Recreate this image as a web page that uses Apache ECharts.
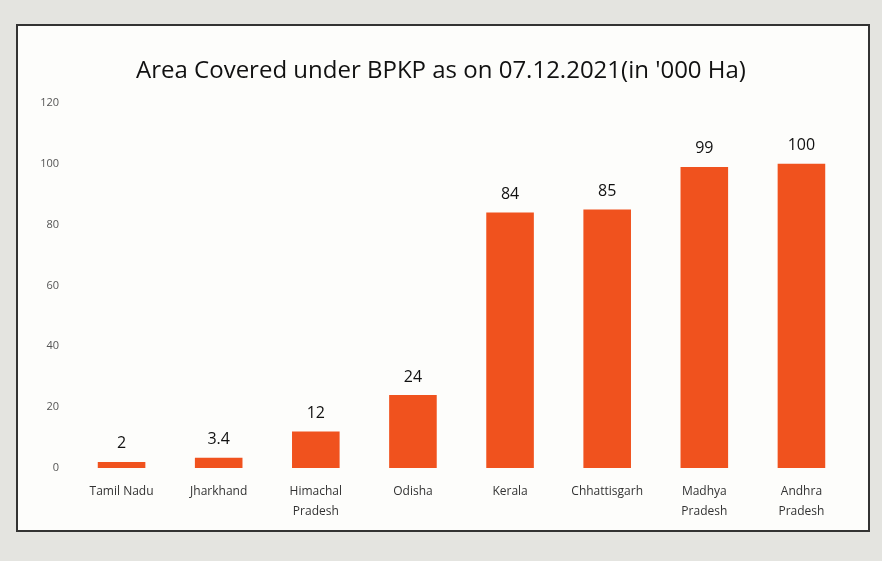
<!DOCTYPE html>
<html>
<head>
<meta charset="utf-8">
<script src="https://cdn.jsdelivr.net/npm/echarts@6/dist/echarts.min.js"></script>
<style>
html,body{margin:0;padding:0;background:#e4e4e0;}
#frame{position:absolute;left:16px;top:24px;width:854px;height:508px;background:#fdfdfb;border:2px solid #333;box-sizing:border-box;}
#chart{position:absolute;left:0;top:0;width:882px;height:561px;}
</style>
</head>
<body>
<div id="frame"></div>
<div id="chart"></div>
<script>
const categories = ["Tamil Nadu", "Jharkhand", "Himachal\nPradesh", "Odisha", "Kerala", "Chhattisgarh", "Madhya\nPradesh", "Andhra\nPradesh"];
const values = [2, 3.4, 12, 24, 84, 85, 99, 100];
const yTicks = [0, 20, 40, 60, 80, 100, 120];

const chart = echarts.init(document.getElementById('chart'), null, {renderer: 'canvas'});
chart.setOption({
  backgroundColor: 'transparent',
  animation: false,
  title: {
    text: "Area Covered under BPKP as on 07.12.2021(in '000 Ha)",
    left: 'center',
    top: 54,
    textStyle: {fontFamily: 'Open Sans', fontSize: 24, fontWeight: 'normal', color: '#111'}
  },
  grid: {left: 73, right: 32, top: 103, bottom: 93, containLabel: false},
  xAxis: {
    type: 'category',
    data: categories,
    axisLine: {show: false},
    axisTick: {show: false},
    axisLabel: {fontFamily: 'Open Sans', fontSize: 12, color: '#333', margin: 14, lineHeight: 20}
  },
  yAxis: {
    type: 'value',
    min: yTicks[0],
    max: yTicks[yTicks.length - 1],
    interval: 20,
    splitLine: {show: false},
    axisLine: {show: false},
    axisTick: {show: false},
    axisLabel: {fontFamily: 'Open Sans', fontSize: 11, color: '#555', margin: 14}
  },
  series: [{
    type: 'bar',
    data: values,
    barWidth: '49%',
    itemStyle: {color: '#F0521E'},
    label: {show: true, position: 'top', distance: 10, fontFamily: 'Open Sans', fontSize: 16, color: '#111'}
  }]
});
</script>
</body>
</html>
